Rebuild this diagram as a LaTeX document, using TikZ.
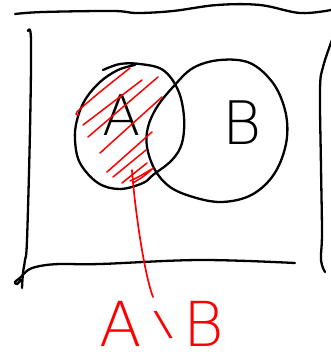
\documentclass[tikz,border=0pt]{standalone}
\usepackage{fontspec}
\setsansfont{DejaVu Sans ExtraLight}
\begin{document}
\begin{tikzpicture}[x=1pt,y=-1pt,
  ink/.style={line width=2.3pt,line cap=round,line join=round},
  redink/.style={red,line width=1.7pt,line cap=round,line join=round},
  hatchline/.style={red,line width=1.5pt,line cap=round},
  blacklabel/.style={inner sep=0pt,anchor=base,font=\sffamily},
  redlabel/.style={inner sep=0pt,anchor=base west,red,font=\sffamily}]
\useasboundingbox (0,0) rectangle (331,354);
% rough rectangle
\draw[ink] plot[smooth,tension=0.6] coordinates {(15,14) (43,12) (113,11) (137,13) (173,11) (217,5) (260,5) (300,13) (331,10)};
\draw[ink] plot[smooth,tension=0.6] coordinates {(28,31) (31,40) (30,130) (27,240) (25,260) (23,273) (22,288)};
\draw[ink] plot[smooth,tension=0.6] coordinates {(295,263) (200,260) (100,264) (60,264) (40,266) (28,270) (21,277) (15,282) (17,284) (21,280)};
\draw[ink] plot[smooth,tension=0.6] coordinates {(332,40) (323,67) (320,90) (321,167) (322,233) (321,260) (325,272)};
% circle A
\draw[ink] plot[smooth,tension=0.6] coordinates {(103,70) (120,64) (140,64) (163,70) (178,90) (184,117) (182,143) (172,160) (153,175) (143,183) (120,189) (98,183) (80,163) (75,140) (77,120) (85,100) (100,82) (118,70) (135,65)};
% circle B
\draw[ink] plot[smooth cycle,tension=0.6] coordinates {(220,60) (250,63) (273,83) (285,110) (287,137) (280,163) (267,183) (247,197) (220,202) (193,197) (170,187) (155,170) (147,147) (148,127) (157,107) (173,87) (193,68)};
% labels
\node[blacklabel,font=\sffamily\fontsize{56}{56}\selectfont] (la) at (122,135) {A};
\node[blacklabel,font=\sffamily\fontsize{60}{60}\selectfont] (lb) at (242,144) {B};
% hatching of A \ B
\draw[hatchline] plot[smooth] coordinates {(79,115) (77,112) (100,92) (130,68)};
\draw[hatchline] (83,125) -- (142,80);
\draw[hatchline] (88,137) -- (158,77);
\draw[hatchline] (100,153) -- (162,97);
\draw[hatchline] (107,172) -- (152,132);
\draw[hatchline] (113,177) -- (146,150);
\draw[hatchline] (122,183) -- (147,163);
\draw[hatchline] plot[smooth] coordinates {(130,181) (140,176) (152,169) (144,176) (133,183)};
% pointer and difference label
\coordinate (hatchend) at (132,170);
\node[redlabel,font=\sffamily\fontsize{62}{62}\selectfont] (diff) at (99,346) {A\hspace{11pt}\raisebox{11pt}{\fontsize{33}{33}\selectfont\scalebox{1.9}[1]{\textbackslash}}\hspace{10pt}B};
\coordinate (tip) at (153,297);
\draw[redink] (hatchend) .. controls (134,200) and (143,270) .. (tip);
\end{tikzpicture}
\end{document}
